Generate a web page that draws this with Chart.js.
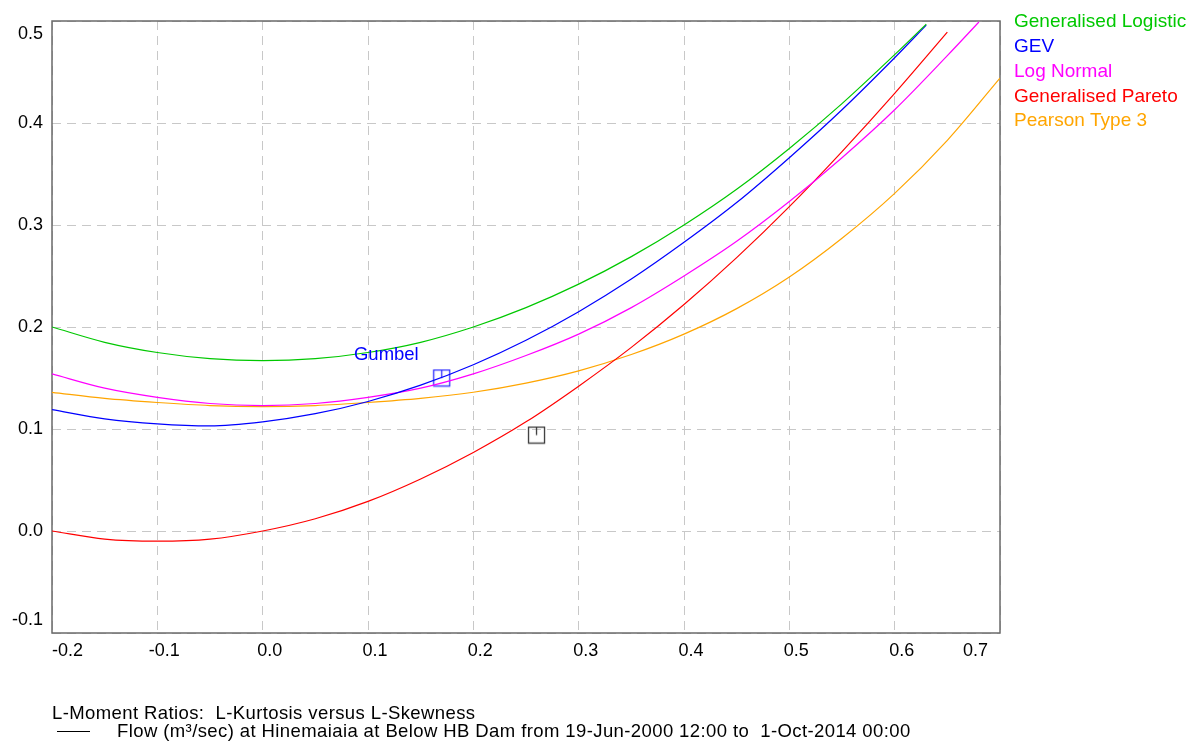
<!DOCTYPE html>
<html>
<head>
<meta charset="utf-8">
<script src="https://cdn.jsdelivr.net/npm/chart.js@4"></script>
<style>
html,body{margin:0;padding:0;background:#fff;}
#wrap{width:1190px;height:742px;}
</style>
</head>
<body>
<div id="wrap"><canvas id="c" width="1190" height="742"></canvas></div>
<script>
// ---- tick labels ----
const xTicks = [-0.2, -0.1, 0.0, 0.1, 0.2, 0.3, 0.4, 0.5, 0.6, 0.7];
const xTickLabels = ['-0.2', '-0.1', '0.0', '0.1', '0.2', '0.3', '0.4', '0.5', '0.6', '0.7'];
const yTicks = [-0.1, 0.0, 0.1, 0.2, 0.3, 0.4, 0.5];
const yTickLabels = ['-0.1', '0.0', '0.1', '0.2', '0.3', '0.4', '0.5'];

// ---- series (L-skewness -> L-kurtosis) ----
const seriesNames = ['Generalised Logistic', 'GEV', 'Log Normal', 'Generalised Pareto', 'Pearson Type 3'];
const seriesColors = ['#00C800', '#0000FF', '#FF00FF', '#FF0000', '#FFA500'];

const gloSkew = [-0.20,-0.15,-0.10,-0.05,0.00,0.05,0.10,0.15,0.20,0.25,0.30,0.35,0.40,0.45,0.50,0.55,0.60,0.63];
const gloKurt = [0.200,0.185,0.175,0.169,0.167,0.169,0.175,0.185,0.200,0.219,0.242,0.269,0.300,0.335,0.375,0.419,0.467,0.497];

const gevSkew = [-0.20,-0.15,-0.10,-0.05,0.00,0.05,0.10,0.15,0.20,0.25,0.30,0.35,0.40,0.45,0.50,0.55,0.60,0.63];
const gevKurt = [0.119,0.110,0.105,0.103,0.107,0.115,0.127,0.143,0.163,0.187,0.215,0.247,0.283,0.322,0.366,0.413,0.464,0.496];

const lnSkew = [-0.20,-0.15,-0.10,-0.05,0.00,0.05,0.10,0.15,0.20,0.25,0.30,0.35,0.40,0.45,0.50,0.55,0.60,0.65,0.68];
const lnKurt = [0.154,0.140,0.131,0.125,0.123,0.125,0.131,0.140,0.154,0.172,0.193,0.219,0.250,0.284,0.323,0.366,0.413,0.466,0.499];

const gpaSkew = [-0.20,-0.15,-0.10,-0.05,0.00,0.05,0.10,0.15,0.20,0.25,0.30,0.35,0.40,0.45,0.50,0.55,0.60,0.65];
const gpaKurt = [0.000,-0.008,-0.010,-0.008,0.000,0.012,0.029,0.051,0.077,0.107,0.142,0.180,0.222,0.268,0.318,0.372,0.429,0.489];

const pe3Skew = [-0.20,-0.15,-0.10,-0.05,0.00,0.05,0.10,0.15,0.20,0.25,0.30,0.35,0.40,0.45,0.50,0.55,0.60,0.65,0.70];
const pe3Kurt = [0.136,0.130,0.126,0.123,0.122,0.123,0.126,0.130,0.136,0.145,0.157,0.173,0.193,0.218,0.249,0.287,0.331,0.383,0.444];

// ---- points ----
const gumbelPoint = {x: 0.170, y: 0.150};
const gumbelLabel = 'Gumbel';
const samplePoint = {x: 0.260, y: 0.094};

// ---- texts ----
const footerTitle = 'L-Moment Ratios:  L-Kurtosis versus L-Skewness';
const footerSeries = 'Flow (m\u00B3/sec) at Hinemaiaia at Below HB Dam from 19-Jun-2000 12:00 to  1-Oct-2014 00:00';

const FONT = '"Liberation Sans", Arial, sans-serif';

function pts(xs, ys){ return xs.map((x,i)=>({x:x, y:ys[i]})); }

function makeMarker(color){
  const c = document.createElement('canvas');
  c.width = 19; c.height = 19;
  const g = c.getContext('2d');
  g.strokeStyle = color; g.lineWidth = 1.3;
  g.strokeRect(1.5, 1.5, 16, 16);
  g.beginPath(); g.moveTo(9.5, 1.5); g.lineTo(9.5, 9.5); g.stroke();
  return c;
}

function lineDs(label, data, color){
  return {label, data, borderColor: color, backgroundColor: color, borderWidth: 1.2,
    showLine: true, pointRadius: 0, pointHoverRadius: 0, cubicInterpolationMode: 'monotone', fill: false};
}

const datasets = [
  lineDs(seriesNames[0], pts(gloSkew, gloKurt), seriesColors[0]),
  lineDs(seriesNames[1], pts(gevSkew, gevKurt), seriesColors[1]),
  lineDs(seriesNames[2], pts(lnSkew, lnKurt), seriesColors[2]),
  lineDs(seriesNames[3], pts(gpaSkew, gpaKurt), seriesColors[3]),
  lineDs(seriesNames[4], pts(pe3Skew, pe3Kurt), seriesColors[4]),
  {label: gumbelLabel, data: [gumbelPoint], showLine: false, pointStyle: makeMarker('#3030FF'), pointRadius: 9},
  {label: 'sample', data: [samplePoint], showLine: false, pointStyle: makeMarker('#383838'), pointRadius: 9}
];

const decor = {
  id: 'decor',
  beforeDatasetsDraw(chart){
    const {ctx, chartArea: a} = chart;
    ctx.save();
    ctx.strokeStyle = '#6a6a6a';
    ctx.lineWidth = 1.5;
    ctx.strokeRect(a.left, a.top, a.right - a.left, a.bottom - a.top);
    ctx.restore();
  },
  afterDraw(chart){
    const {ctx, chartArea: a, scales} = chart;
    const xs = scales.x, ys = scales.y;
    ctx.save();
    ctx.fillStyle = '#000';
    ctx.font = '18px ' + FONT;
    // x tick labels
    ctx.textBaseline = 'middle';
    xTicks.forEach((v,i)=>{
      const px = xs.getPixelForValue(v);
      if (i === 0){ ctx.textAlign = 'left'; ctx.fillText(xTickLabels[i], a.left, 651); }
      else if (i === xTicks.length-1){ ctx.textAlign = 'right'; ctx.fillText(xTickLabels[i], a.right - 12, 651); }
      else { ctx.textAlign = 'center'; ctx.fillText(xTickLabels[i], px + 7, 651); }
    });
    // y tick labels
    ctx.textAlign = 'right';
    yTicks.forEach((v,i)=>{
      let py = ys.getPixelForValue(v);
      if (i === 0) py -= 13;
      if (i === yTicks.length-1) py += 13;
      ctx.fillText(yTickLabels[i], 43, py);
    });
    // legend
    ctx.textAlign = 'left';
    ctx.font = '19px ' + FONT;
    const ly = [22, 47, 72, 97, 121];
    seriesNames.forEach((n,i)=>{ ctx.fillStyle = seriesColors[i]; ctx.fillText(n, 1014, ly[i]); });
    // Gumbel label
    ctx.font = '18.5px ' + FONT;
    ctx.fillStyle = '#0000FF';
    ctx.textAlign = 'right';
    ctx.fillText(gumbelLabel, xs.getPixelForValue(gumbelPoint.x) - 23, ys.getPixelForValue(gumbelPoint.y) - 23);
    // footer
    ctx.fillStyle = '#000';
    ctx.textAlign = 'left';
    ctx.font = '18.5px ' + FONT;
    try { ctx.letterSpacing = '0.4px'; } catch(e) {}
    ctx.fillText(footerTitle, 52, 714);
    ctx.fillText(footerSeries, 117, 731.5);
    try { ctx.letterSpacing = '0px'; } catch(e) {}
    ctx.strokeStyle = '#000'; ctx.lineWidth = 1;
    ctx.beginPath(); ctx.moveTo(57, 731.5); ctx.lineTo(90, 731.5); ctx.stroke();
    ctx.restore();
  }
};

new Chart(document.getElementById('c'), {
  type: 'scatter',
  data: {datasets},
  options: {
    responsive: false,
    animation: false,
    devicePixelRatio: 1,
    layout: {padding: {left: 52, top: 21, right: 190, bottom: 109}},
    plugins: {legend: {display: false}, tooltip: {enabled: false}},
    scales: {
      x: {type: 'linear', min: -0.2, max: 0.7,
        ticks: {display: false, stepSize: 0.1},
        grid: {color: '#c8c8c8', lineWidth: 1, drawTicks: false},
        border: {display: false, dash: [9, 6]}},
      y: {type: 'linear', min: -0.1, max: 0.5,
        ticks: {display: false, stepSize: 0.1},
        grid: {color: '#c8c8c8', lineWidth: 1, drawTicks: false},
        border: {display: false, dash: [9, 6]}}
    }
  },
  plugins: [decor]
});
</script>
</body>
</html>
